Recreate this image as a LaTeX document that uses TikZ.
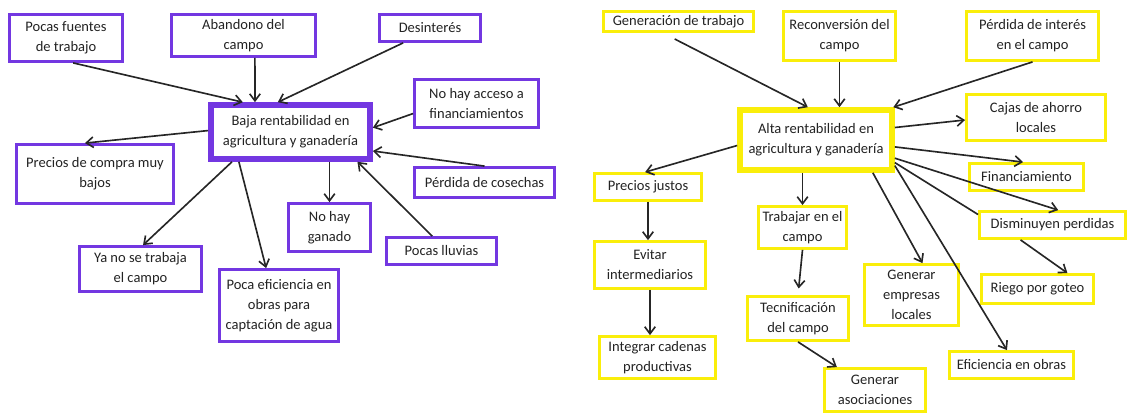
\documentclass[tikz,border=0pt]{standalone}
\usepackage{fontspec}
\setmainfont{Carlito}
\usetikzlibrary{arrows.meta}

\definecolor{violeta}{RGB}{115,55,225}
\definecolor{amarillo}{RGB}{250,238,10}
\definecolor{texto}{RGB}{35,35,35}

\tikzset{
  caja/.style={draw, fill=white, align=center, inner sep=0pt, text=texto,
    font=\fontsize{12.4}{17}\selectfont},
  causa/.style 2 args={caja, draw=violeta, line width=2.4pt,
    minimum width=(#1-3)*0.03cm, minimum height=(#2-3)*0.03cm},
  efecto/.style 2 args={caja, draw=amarillo, line width=2.4pt,
    minimum width=(#1-3)*0.03cm, minimum height=(#2-3)*0.03cm},
  centro/.style={line width=4.8pt},
  flecha/.style={-{Straight Barb[length=6pt,width=9pt]}, line width=1.4pt, draw=black!85},
}

\begin{document}
\begin{tikzpicture}[x=0.03cm, y=-0.03cm]
\useasboundingbox (0,0) rectangle (1129,414);

% baja rentabilidad
\node[causa={165}{60}, centro, minimum width=159*0.03cm, minimum height=54*0.03cm] (baja) at (290.5,132) {Baja rentabilidad en\\agricultura y ganadería};
\node[causa={116}{50}] (fuentes) at (66,38) {Pocas fuentes\\de trabajo};
\node[causa={147}{45}] (abandono) at (243.5,35.5) {Abandono del\\campo};
\node[causa={104}{30}] (desinteres) at (430,28) {Desinterés};
\node[causa={127}{51}] (acceso) at (476.5,103.5) {No hay acceso a\\financiamientos};
\node[causa={160}{62}] (precios) at (95,174) {Precios de compra muy\\bajos};
\node[causa={125}{48}] (yano) at (140.5,269) {Ya no se trabaja\\el campo};
\node[causa={122}{75}] (eficiencia) at (279,305.5) {Poca eficiencia en\\obras para\\captación de agua};
\node[causa={85}{51}] (ganado) at (329.5,227.5) {No hay\\ganado};
\node[causa={113}{30}] (lluvias) at (441.5,251) {Pocas lluvias};
\node[causa={143}{33}] (cosechas) at (484.5,182.5) {Pérdida de cosechas};

\draw[flecha] (fuentes.286) -- (baja.148);
\draw[flecha] (abandono.297) -- (baja.140);
\draw[flecha] (desinteres.209) -- (baja.113);
\draw[flecha] (acceso.189) -- (baja.3);
\draw[flecha] (baja.179) -- (precios.108);
\draw[flecha] (baja.207) -- (yano.84);
\draw[flecha] (baja.210) -- (eficiencia.109);
\draw[flecha] (baja.south -| ganado.north) -- (ganado.north);
\draw[flecha] (lluvias.122) -- (baja.336);
\draw[flecha] (cosechas.north) -- (baja.347);

% alta rentabilidad
\node[efecto={158}{66}, centro, minimum width=152*0.03cm, minimum height=60*0.03cm] (alta) at (816,140) {Alta rentabilidad en\\agricultura y ganadería};
\node[efecto={153}{23}] (generacion) at (678.5,21.5) {Generación de trabajo};
\node[efecto={115}{52}] (reconversion) at (839.5,36) {Reconversión del\\campo};
\node[efecto={135}{52}] (interes) at (1032.5,36) {Pérdida de interés\\en el campo};
\node[efecto={142}{49}] (cajas) at (1036,117.5) {Cajas de ahorro\\locales};
\node[efecto={117}{30}] (financ) at (1026.5,177) {Financiamiento};
\node[efecto={149}{30}] (disminuyen) at (1052.5,225) {Disminuyen perdidas};
\node[efecto={115}{32}] (riego) at (1037.5,289) {Riego por goteo};
\node[efecto={127}{30}] (obras) at (1011.5,365) {Eficiencia en obras};
\node[efecto={97}{64}] (empresas) at (911.5,295) {Generar\\empresas\\locales};
\node[efecto={104}{46}] (asociaciones) at (875,390) {Generar\\asociaciones};
\node[efecto={104}{47}] (tecnif) at (798,318.5) {Tecnificación\\del campo};
\node[efecto={91}{45}] (trabajar) at (802.5,227.5) {Trabajar en el\\campo};
\node[efecto={110}{30}] (justos) at (648,187) {Precios justos};
\node[efecto={114}{50}] (evitar) at (650,265) {Evitar\\intermediarios};
\node[efecto={119}{45}] (integrar) at (657.5,357.5) {Integrar cadenas\\productivas};

\draw[flecha, shorten <=0.4cm] (generacion.216) -- (alta.104);
\draw[flecha] (reconversion.south) -- (reconversion.south |- alta.north);
\draw[flecha] (interes.south) -- (alta.23);
\draw[flecha] (alta.9) -- (cajas.182);
\draw[flecha] (alta.355) -- (financ.103);
\draw[flecha] (alta.347) -- (disminuyen.69);
\draw[line width=1.4pt, draw=black!85] (alta.344) -- (disminuyen.172);
\draw[flecha] (alta.342) -- (obras.107);
\draw[flecha] (alta.330) -- (empresas.71);
\draw[flecha] (disminuyen.205) -- (riego.28);
\draw[flecha] (alta.184) -- (justos.101);
\draw[flecha] (alta.south -| trabajar.north) -- (trabajar.north);
\draw[flecha] (justos.south) -- (justos.south |- evitar.north);
\draw[flecha] (evitar.south) -- (evitar.south |- integrar.north);
\draw[flecha, shorten >=0.2cm] (trabajar.south) -- (tecnif.north);
\draw[flecha] (tecnif.south) -- (asociaciones.149);
\end{tikzpicture}
\end{document}
